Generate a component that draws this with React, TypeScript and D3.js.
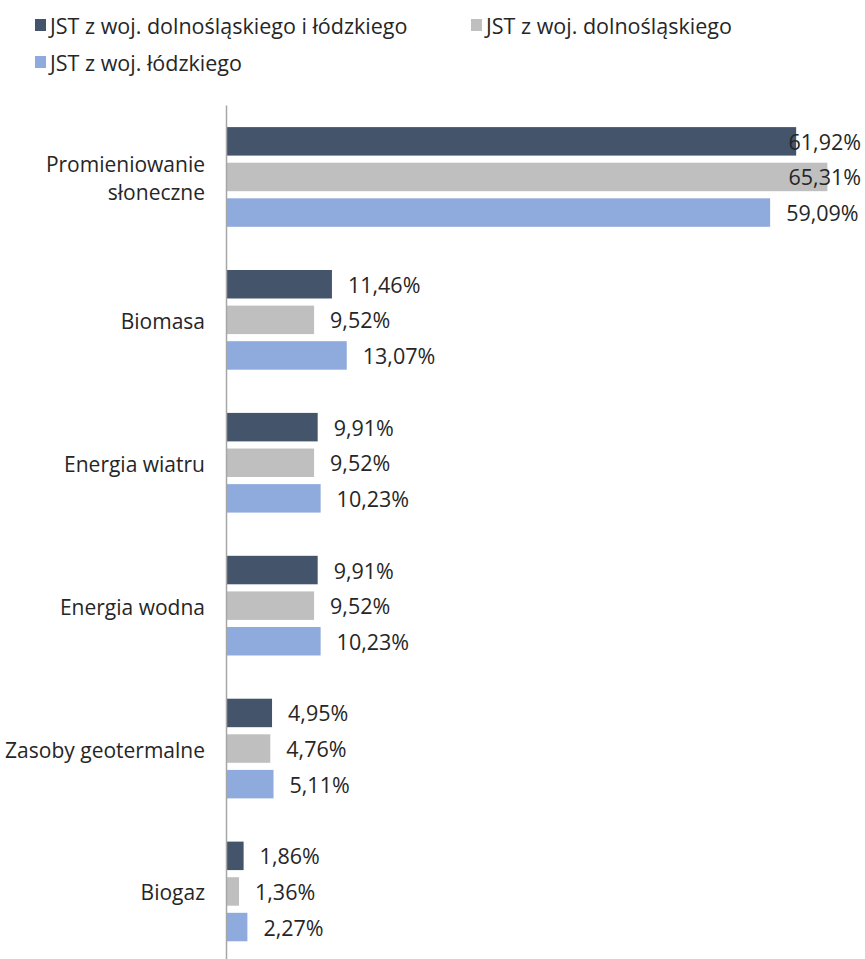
import React from "react";
import * as d3 from "d3";

const categories = [
  "Promieniowanie słoneczne",
  "Biomasa",
  "Energia wiatru",
  "Energia wodna",
  "Zasoby geotermalne",
  "Biogaz",
];
const categoryLines = [
  ["Promieniowanie", "słoneczne"],
  ["Biomasa"],
  ["Energia wiatru"],
  ["Energia wodna"],
  ["Zasoby geotermalne"],
  ["Biogaz"],
];
const seriesNames = [
  "JST z woj. dolnośląskiego i łódzkiego",
  "JST z woj. dolnośląskiego",
  "JST z woj. łódzkiego",
];
const valuesBoth = [61.92, 11.46, 9.91, 9.91, 4.95, 1.86];
const valuesDolnoslaskie = [65.31, 9.52, 9.52, 9.52, 4.76, 1.36];
const valuesLodzkie = [59.09, 13.07, 10.23, 10.23, 5.11, 2.27];
const seriesColors = ["#44546A", "#BFBFBF", "#8FAADC"];

const W = 865;
const H = 959;
const FONT = "'Open Sans', sans-serif";
const LFS = 21.5;
const CFS = 21;
const VFS = 21.5;

function measure(text: string, size: number) {
  if (typeof document === "undefined") return text.length * size * 0.55;
  const c = document.createElement("canvas");
  const ctx = c.getContext("2d")!;
  ctx.font = `${size}px 'Open Sans'`;
  return ctx.measureText(text).width;
}

export default function App() {
  const allSeries = [valuesBoth, valuesDolnoslaskie, valuesLodzkie];
  const axisX = 226.5;
  const x = d3.scaleLinear().domain([0, 70]).range([axisX, axisX + 644]);
  const y = d3.scaleBand<string>().domain(categories).range([105.5, 105.5 + 6 * 142.9]);
  const sub = d3
    .scaleBand<number>()
    .domain([0, 1, 2])
    .range([0, y.bandwidth()])
    .paddingInner(0.2)
    .paddingOuter(0.607);
  const labelRight = 861;

  return (
    <svg
      width={W}
      height={H}
      style={{ position: "absolute", left: 0, top: 0, display: "block", background: "#fff" }}
      fontFamily={FONT}
    >
      {/* legend */}
      {seriesNames.map((name, i) => {
        const lx = i === 1 ? 471 : 35;
        const ly = i === 2 ? 62 : 25;
        return (
          <g key={name}>
            <rect x={lx} y={ly - 6} width={11} height={12} fill={seriesColors[i]} />
            <text x={lx + 15} y={ly} dominantBaseline="central" fontSize={LFS} fill="#262626">
              {name}
            </text>
          </g>
        );
      })}

      {/* bars */}
      {categories.map((cat, ci) => (
        <g key={cat}>
          {allSeries.map((vals, si) => {
            const v = vals[ci];
            const by = (y(cat) ?? 0) + (sub(si) ?? 0);
            const end = x(v);
            const label = v.toFixed(2).replace(".", ",") + "%";
            const tw = measure(label, VFS);
            const lx = Math.min(end + 16, labelRight - tw);
            return (
              <g key={si}>
                <rect x={x(0)} y={by} width={end - x(0)} height={sub.bandwidth()} fill={seriesColors[si]} />
                <text
                  x={lx}
                  y={by + sub.bandwidth() / 2}
                  dominantBaseline="central"
                  fontSize={VFS}
                  fill="#262626"
                >
                  {label}
                </text>
              </g>
            );
          })}
        </g>
      ))}

      {/* axis line */}
      <line x1={axisX} x2={axisX} y1={105.5} y2={H} stroke="#A6A6A6" strokeWidth={1.5} />

      {/* category labels */}
      {categories.map((cat, ci) => {
        const cy = (y(cat) ?? 0) + y.bandwidth() / 2;
        const lines = categoryLines[ci];
        const lh = 28;
        return (
          <text key={cat} textAnchor="end" fontSize={CFS} fill="#262626">
            {lines.map((ln, li) => (
              <tspan
                key={li}
                x={205}
                y={cy + 1 + (li - (lines.length - 1) / 2) * lh}
                dominantBaseline="central"
              >
                {ln}
              </tspan>
            ))}
          </text>
        );
      })}
    </svg>
  );
}
